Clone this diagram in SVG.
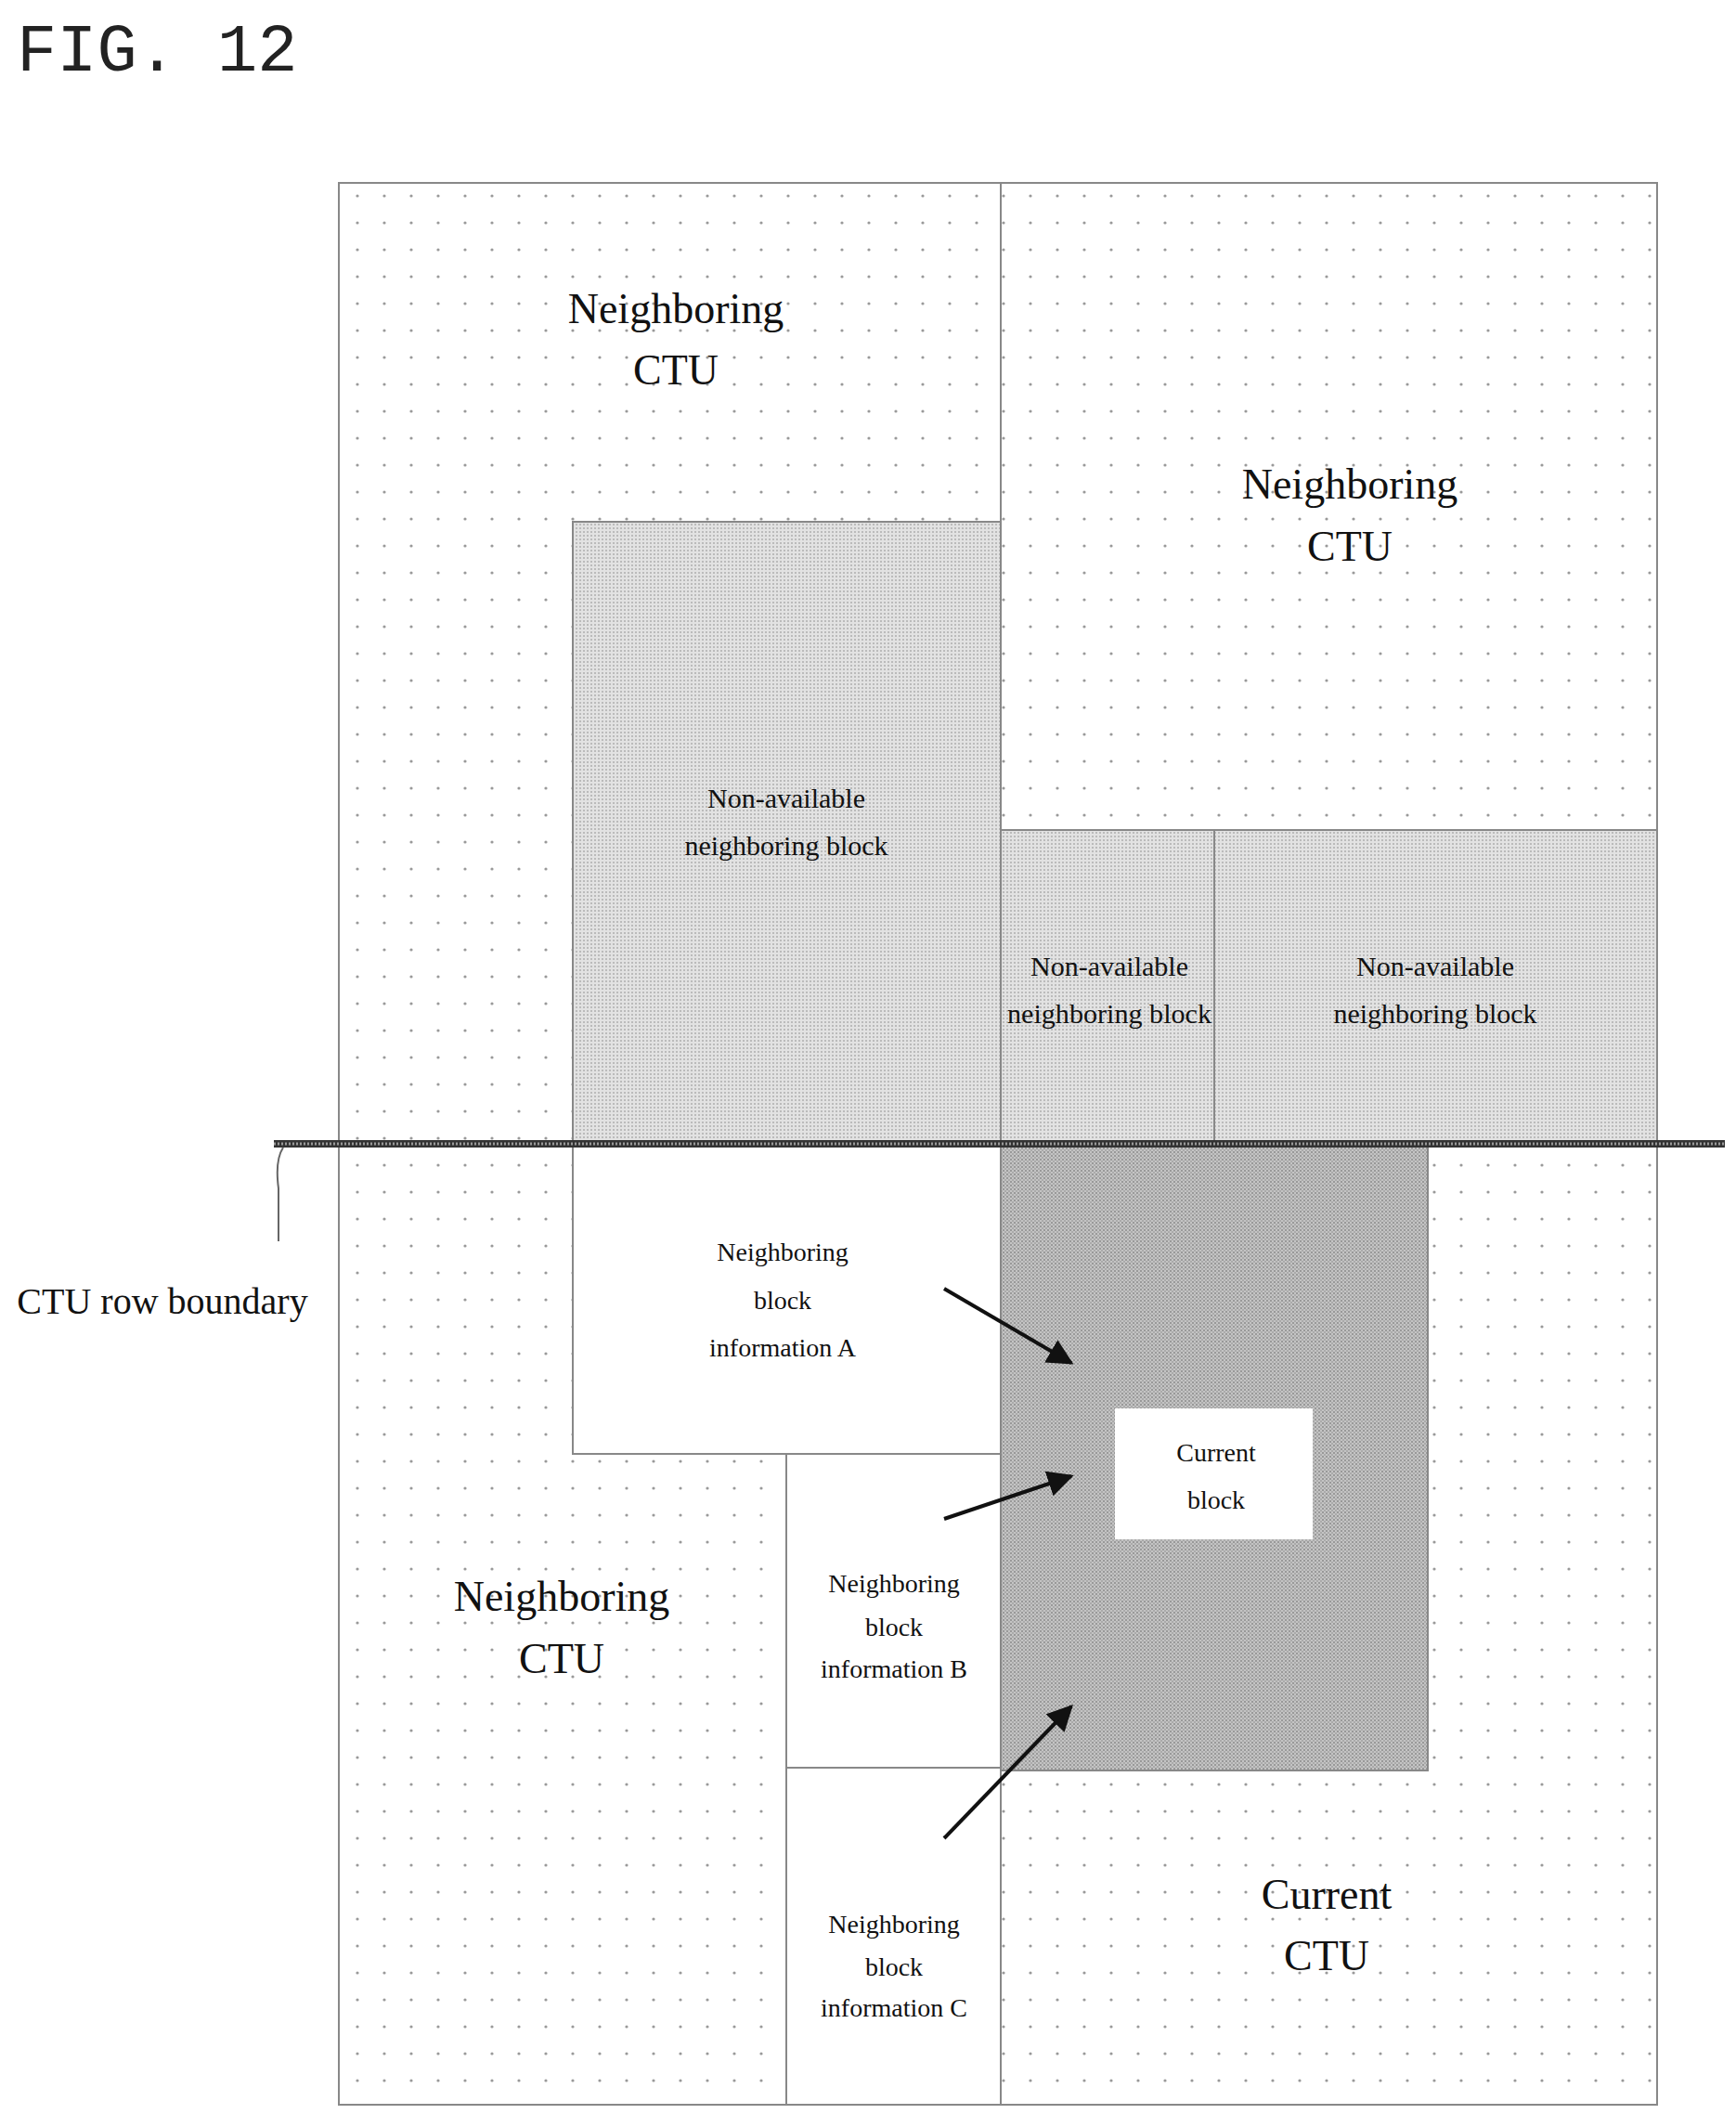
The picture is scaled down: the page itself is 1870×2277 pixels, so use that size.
<svg xmlns="http://www.w3.org/2000/svg" width="1870" height="2277" viewBox="0 0 1870 2277">
<style>
.t{font-family:"Liberation Serif",serif;text-anchor:middle;fill:#111}
.big{font-size:46px}
.mid{font-size:30px}
.sm{font-size:28px}
.b{stroke:#888;stroke-width:2}
</style>
<defs>
<pattern id="dots" width="29" height="29" patternUnits="userSpaceOnUse"><rect width="29" height="29" fill="#fff"/><circle cx="8" cy="8" r="1.6" fill="#999"/></pattern>
<pattern id="hatch" width="4" height="4" patternUnits="userSpaceOnUse"><rect width="4" height="4" fill="#e2e2e2"/><rect width="2" height="2" fill="#bbb"/></pattern>
<pattern id="dark" width="4" height="4" patternUnits="userSpaceOnUse"><rect width="4" height="4" fill="#c4c4c4"/><rect width="2" height="2" fill="#999"/><rect x="2" y="2" width="2" height="2" fill="#aaa"/></pattern>
<marker id="ah" viewBox="0 0 10 10" refX="9" refY="5" markerWidth="7" markerHeight="7" orient="auto"><path d="M0,0L10,5L0,10z" fill="#111"/></marker>
</defs>
<rect width="1870" height="2277" fill="#fff"/>
<text x="18" y="76" font-family="Liberation Mono,monospace" font-size="72" fill="#222">FIG. 12</text>
<g id="ctu-tl"><rect x="365" y="197" width="713" height="1035" fill="url(#dots)" class="b"/><text class="t big" x="728" y="348">Neighboring</text><text class="t big" x="728" y="414">CTU</text></g>
<g id="ctu-tr"><rect x="1078" y="197" width="707" height="697" fill="url(#dots)" class="b"/><text class="t big" x="1454" y="537">Neighboring</text><text class="t big" x="1454" y="604">CTU</text></g>
<g id="ctu-bl"><rect x="365" y="1232" width="482" height="1035" fill="url(#dots)" class="b"/><text class="t big" x="605" y="1735">Neighboring</text><text class="t big" x="605" y="1802">CTU</text></g>
<g id="ctu-cur"><rect x="1078" y="1232" width="707" height="1035" fill="url(#dots)" class="b"/><text class="t big" x="1429" y="2056">Current</text><text class="t big" x="1429" y="2122">CTU</text></g>
<g id="na1"><rect x="617" y="562" width="461" height="670" fill="url(#hatch)" class="b"/><text class="t mid" x="847" y="870">Non-available</text><text class="t mid" x="847" y="921">neighboring block</text></g>
<g id="na2"><rect x="1078" y="894" width="230" height="338" fill="url(#hatch)" class="b"/><text class="t mid" x="1195" y="1051">Non-available</text><text class="t mid" x="1195" y="1102" textLength="220" lengthAdjust="spacingAndGlyphs">neighboring block</text></g>
<g id="na3"><rect x="1308" y="894" width="477" height="338" fill="url(#hatch)" class="b"/><text class="t mid" x="1546" y="1051">Non-available</text><text class="t mid" x="1546" y="1102">neighboring block</text></g>
<g id="cur-area"><rect x="1078" y="1232" width="460" height="675" fill="url(#dark)" class="b"/></g>
<g id="cur-block"><rect x="1201" y="1517" width="213" height="141" fill="#fff"/><text class="t sm" x="1310" y="1574">Current</text><text class="t sm" x="1310" y="1625">block</text></g>
<g id="nbA"><rect x="617" y="1232" width="461" height="334" fill="#fff" class="b"/><text class="t sm" x="843" y="1358">Neighboring</text><text class="t sm" x="843" y="1410">block</text><text class="t sm" x="843" y="1461">information A</text></g>
<g id="nbB"><rect x="847" y="1566" width="231" height="338" fill="#fff" class="b"/><text class="t sm" x="963" y="1715">Neighboring</text><text class="t sm" x="963" y="1762">block</text><text class="t sm" x="963" y="1807">information B</text></g>
<g id="nbC"><rect x="847" y="1904" width="231" height="363" fill="#fff" class="b"/><text class="t sm" x="963" y="2082">Neighboring</text><text class="t sm" x="963" y="2128">block</text><text class="t sm" x="963" y="2172">information C</text></g>
<g id="boundary"><line x1="295" y1="1232" x2="1858" y2="1232" stroke="#333" stroke-width="8"/><line x1="295" y1="1232" x2="1858" y2="1232" stroke="#999" stroke-width="3" stroke-dasharray="2 2"/><text x="175" y="1415" font-family="Liberation Serif,serif" font-size="40" text-anchor="middle" fill="#111">CTU row boundary</text></g>
<g id="connectors" stroke="#111" stroke-width="4" fill="none">
<path d="M305,1236 Q296,1250 300,1280 L300,1337" stroke="#666" stroke-width="2"/>
<line x1="1017" y1="1388" x2="1154" y2="1468" marker-end="url(#ah)"/>
<line x1="1017" y1="1636" x2="1154" y2="1590" marker-end="url(#ah)"/>
<line x1="1017" y1="1980" x2="1154" y2="1838" marker-end="url(#ah)"/>
</g>
</svg>
